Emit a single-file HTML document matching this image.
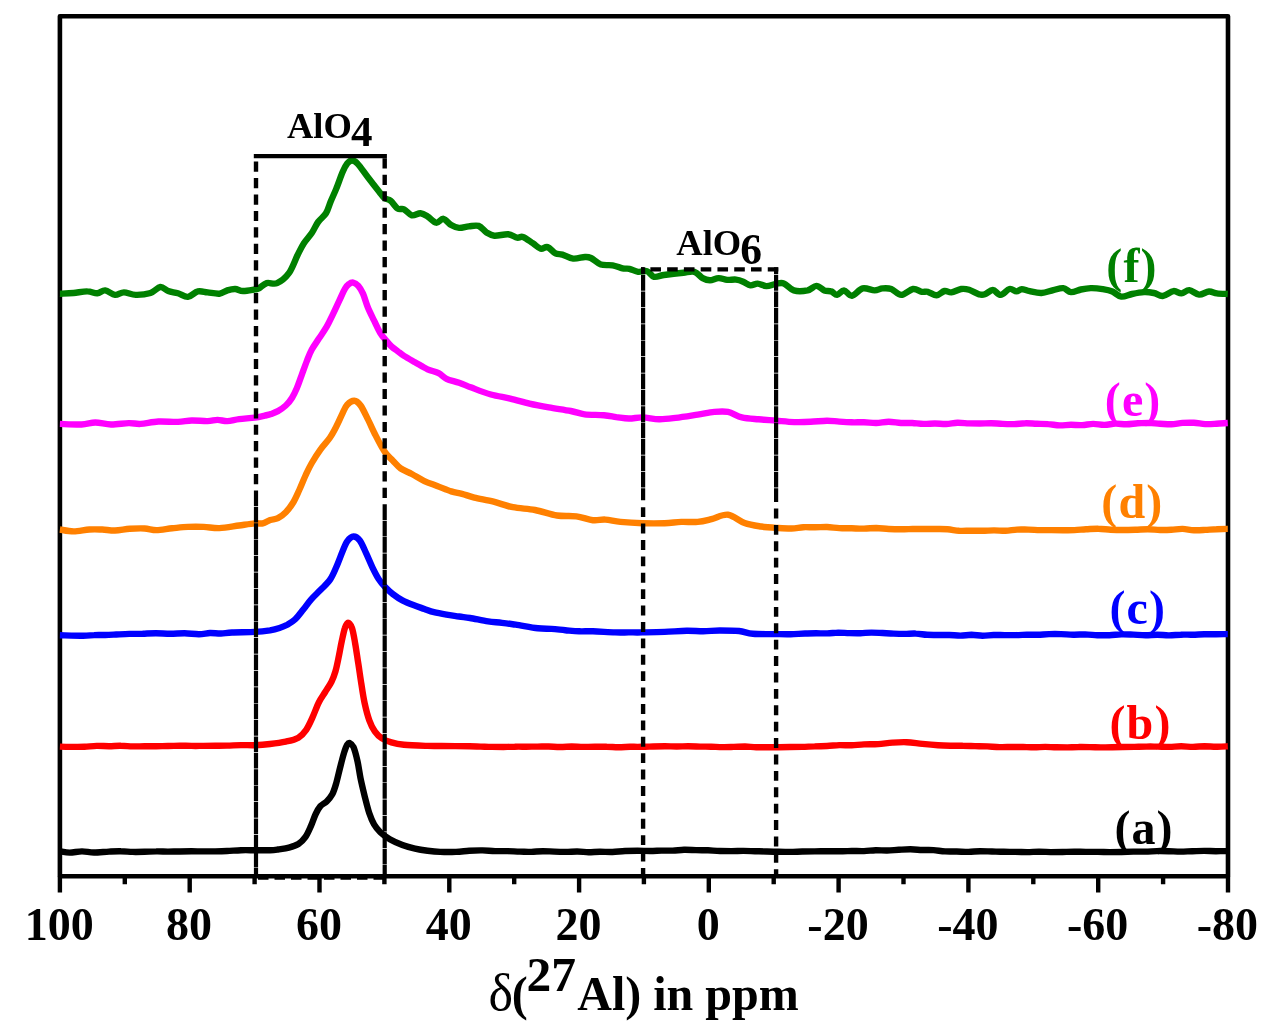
<!DOCTYPE html>
<html lang="en"><head><meta charset="utf-8"><title>27Al MAS NMR spectra</title>
<style>
html,body{margin:0;padding:0;background:#fff;}
body{width:1269px;height:1035px;overflow:hidden;font-family:"Liberation Serif",serif;}
svg{display:block;filter:blur(0.55px);}
</style></head><body>
<svg width="1269" height="1035" viewBox="0 0 1269 1035">
<rect width="1269" height="1035" fill="#ffffff"/>
<rect x="59.9" y="16.3" width="1168.1" height="860.0" fill="none" stroke="#000" stroke-width="4.6" stroke-linejoin="round"/>
<path d="M59.9 876.3V892.5M124.8 876.3V884.3M189.7 876.3V892.5M254.6 876.3V884.3M319.5 876.3V892.5M384.4 876.3V884.3M449.3 876.3V892.5M514.2 876.3V884.3M579.1 876.3V892.5M643.9 876.3V884.3M708.8 876.3V892.5M773.7 876.3V884.3M838.6 876.3V892.5M903.5 876.3V884.3M968.4 876.3V892.5M1033.3 876.3V884.3M1098.2 876.3V892.5M1163.1 876.3V884.3M1228.0 876.3V892.5" stroke="#000" stroke-width="4.4" fill="none"/>
<g fill="none" stroke-width="6.4" stroke-linejoin="round" stroke-linecap="butt">
<path stroke="#000000" d="M59.9 851.2C61.5 851.4 66.0 852.6 69.7 852.6C73.4 852.6 78.0 851.4 82.0 851.4C86.0 851.4 89.5 852.5 94.0 852.5C98.5 852.5 104.5 851.8 109.0 851.6C113.5 851.4 116.9 851.2 120.8 851.3C124.7 851.3 128.7 851.8 132.6 851.9C136.5 852.0 140.5 851.9 144.4 851.8C148.3 851.7 152.3 851.4 156.2 851.4C160.1 851.3 164.1 851.6 168.0 851.6C171.9 851.6 175.9 851.5 179.8 851.5C183.7 851.4 187.7 851.3 191.6 851.3C195.5 851.3 199.5 851.4 203.4 851.4C207.3 851.4 211.3 851.4 215.2 851.4C219.1 851.3 222.7 851.2 227.0 851.0C231.3 850.8 236.3 850.4 241.0 850.2C245.7 850.1 250.2 850.2 255.0 850.2C259.8 850.2 266.2 850.4 270.0 850.3C273.8 850.2 274.8 850.0 277.9 849.5C281.0 849.0 285.5 848.5 288.9 847.6C292.3 846.7 295.6 845.8 298.4 844.0C301.2 842.2 303.4 839.9 305.5 836.9C307.6 833.9 309.3 829.7 311.0 825.9C312.7 822.1 314.1 817.3 315.7 814.0C317.3 810.7 318.6 808.3 320.4 806.2C322.2 804.1 324.7 803.4 326.7 801.4C328.7 799.4 330.7 797.3 332.3 794.3C333.9 791.3 334.9 787.8 336.2 783.3C337.5 778.8 338.8 772.7 340.1 767.6C341.4 762.5 342.9 756.4 344.1 752.6C345.3 748.8 346.2 746.3 347.2 744.7C348.2 743.1 348.8 742.7 349.9 743.1C350.9 743.5 352.2 744.1 353.5 747.1C354.8 750.1 356.3 756.0 357.5 761.2C358.7 766.5 359.4 772.8 360.6 778.6C361.8 784.4 363.2 790.1 364.6 795.9C366.1 801.7 367.7 808.6 369.3 813.3C370.9 818.0 372.2 821.1 374.0 824.3C375.8 827.4 377.7 829.7 380.3 832.2C382.9 834.7 386.1 837.1 389.8 839.3C393.5 841.4 398.2 843.5 402.4 845.1C406.6 846.7 410.8 847.8 415.0 848.7C419.2 849.7 423.4 850.3 427.6 850.8C431.8 851.3 435.5 851.7 440.2 851.9C444.9 852.1 451.1 852.1 456.0 851.9C460.9 851.7 464.9 851.0 469.3 850.7C473.7 850.5 478.3 850.3 482.6 850.4C486.9 850.5 490.9 851.0 495.1 851.1C499.2 851.2 503.4 851.1 507.5 851.1C511.7 851.2 516.0 851.5 520.0 851.6C524.0 851.7 527.6 851.9 531.4 851.9C535.2 851.8 539.0 851.2 542.9 851.2C546.7 851.2 550.5 851.5 554.3 851.6C558.1 851.8 561.9 851.9 565.7 851.9C569.5 851.9 573.3 851.5 577.1 851.5C581.0 851.5 584.8 852.1 588.6 852.2C592.4 852.2 596.0 851.8 600.0 851.8C604.0 851.8 608.3 852.1 612.5 852.0C616.7 851.8 620.8 851.2 625.0 851.0C629.2 850.8 633.3 850.8 637.5 850.8C641.7 850.8 646.0 851.0 650.0 851.0C654.0 851.0 657.6 850.7 661.3 850.6C665.1 850.6 668.9 850.7 672.7 850.6C676.4 850.5 680.1 849.9 684.0 849.8C687.9 849.7 692.0 850.0 696.0 850.1C700.0 850.2 704.0 850.2 708.0 850.3C712.0 850.5 716.1 850.9 720.0 851.0C723.9 851.1 727.8 851.1 731.7 851.1C735.6 851.1 739.4 850.9 743.3 850.9C747.2 850.9 751.1 851.1 755.0 851.2C758.9 851.3 762.8 851.5 766.7 851.5C770.6 851.6 774.4 851.7 778.3 851.7C782.2 851.8 786.0 851.9 790.0 851.9C794.0 851.9 798.2 851.6 802.3 851.5C806.4 851.4 810.6 851.4 814.7 851.4C818.8 851.3 822.9 851.3 827.0 851.2C831.1 851.2 835.2 851.4 839.3 851.3C843.4 851.3 847.6 851.1 851.7 851.0C855.8 851.0 860.0 851.2 864.0 851.1C868.0 851.0 871.7 850.3 875.6 850.2C879.5 850.1 883.3 850.6 887.2 850.5C891.1 850.4 894.9 850.0 898.8 849.8C902.7 849.6 906.5 849.3 910.4 849.3C914.3 849.3 918.1 849.8 922.0 850.0C925.8 850.1 929.7 849.9 933.5 850.1C937.4 850.4 941.3 851.2 945.1 851.4C949.0 851.6 952.8 851.4 956.7 851.5C960.6 851.6 964.5 851.9 968.5 851.9C972.4 851.8 976.3 851.3 980.2 851.2C984.1 851.2 988.0 851.4 992.0 851.5C995.9 851.6 999.8 851.8 1003.7 851.8C1007.6 851.9 1011.6 851.8 1015.5 851.9C1019.4 851.9 1023.3 852.1 1027.2 852.1C1031.1 852.1 1035.1 851.7 1039.0 851.7C1042.9 851.7 1046.8 852.0 1050.7 852.1C1054.7 852.1 1058.6 852.0 1062.5 852.0C1066.4 851.9 1070.3 851.7 1074.2 851.7C1078.2 851.7 1082.1 851.9 1086.0 851.9C1089.9 851.9 1093.9 851.9 1097.8 851.9C1101.8 851.9 1105.7 852.1 1109.6 852.1C1113.6 852.1 1117.5 852.1 1121.5 852.0C1125.4 851.9 1129.3 851.7 1133.3 851.6C1137.2 851.6 1141.1 851.7 1145.1 851.6C1149.0 851.6 1153.0 851.2 1156.9 851.1C1160.8 851.0 1164.8 851.1 1168.7 851.2C1172.7 851.3 1176.6 851.6 1180.5 851.6C1184.5 851.6 1188.4 851.3 1192.3 851.2C1196.3 851.1 1200.2 850.9 1204.2 850.9C1208.1 850.9 1212.0 851.2 1216.0 851.2C1219.9 851.2 1225.8 851.1 1227.8 851.1"/>
<path stroke="#ff0000" d="M59.9 746.6C61.9 746.7 68.1 746.9 72.2 746.9C76.3 746.9 80.4 747.0 84.5 746.8C88.5 746.6 92.6 746.0 96.7 745.9C100.8 745.8 105.0 746.2 109.0 746.2C113.0 746.2 116.9 745.7 120.8 745.8C124.7 745.8 128.7 746.3 132.6 746.4C136.5 746.5 140.5 746.3 144.4 746.3C148.3 746.3 152.3 746.2 156.2 746.2C160.1 746.1 164.1 746.1 168.0 746.0C171.9 745.9 175.9 745.8 179.8 745.7C183.7 745.7 187.7 745.9 191.6 745.9C195.5 746.0 199.5 745.9 203.4 745.9C207.3 745.8 211.3 745.8 215.2 745.8C219.1 745.7 222.7 745.7 227.0 745.6C231.3 745.5 236.3 745.2 241.0 745.1C245.7 745.0 250.2 745.4 255.0 745.2C259.8 745.0 264.9 744.6 270.0 744.0C275.1 743.4 281.1 742.6 285.8 741.6C290.5 740.6 295.0 739.7 298.4 737.7C301.8 735.7 303.8 733.2 306.2 729.8C308.6 726.4 310.5 721.8 312.6 717.2C314.7 712.6 316.8 706.4 318.9 702.2C321.0 698.0 323.1 695.4 325.2 692.0C327.3 688.6 329.8 685.1 331.5 681.7C333.2 678.3 334.2 675.6 335.4 671.5C336.6 667.4 337.6 662.3 338.6 657.3C339.7 652.3 340.6 646.4 341.7 641.5C342.8 636.6 343.8 631.2 344.9 628.1C345.9 625.0 346.8 622.6 348.0 622.6C349.2 622.6 350.8 624.7 352.0 628.1C353.2 631.5 354.1 637.2 355.1 643.1C356.2 649.0 357.2 656.8 358.3 663.6C359.4 670.4 360.3 677.5 361.4 684.1C362.4 690.7 363.3 697.0 364.6 703.0C365.9 709.0 367.6 715.6 369.3 720.3C371.0 725.0 372.7 728.4 374.8 731.4C376.9 734.4 379.1 736.6 381.9 738.4C384.7 740.2 387.7 741.3 391.4 742.4C395.1 743.5 398.0 744.2 404.0 744.8C410.0 745.4 421.3 745.7 427.6 745.9C433.9 746.1 436.9 745.9 441.5 746.0C446.2 746.0 450.8 746.0 455.5 746.1C460.1 746.1 465.2 746.2 469.4 746.3C473.6 746.4 476.9 746.5 480.7 746.6C484.5 746.7 488.3 746.9 492.0 746.9C495.8 747.0 499.6 747.0 503.4 747.0C507.2 746.9 510.9 746.7 514.7 746.7C518.5 746.6 522.2 746.7 526.0 746.7C529.8 746.7 533.6 746.6 537.4 746.6C541.1 746.6 544.9 746.4 548.7 746.5C552.4 746.6 556.2 747.0 560.0 747.0C563.8 747.0 567.8 746.6 571.7 746.5C575.6 746.5 579.4 746.9 583.3 746.9C587.2 746.9 591.1 746.8 595.0 746.7C598.9 746.7 602.8 746.7 606.7 746.8C610.6 746.8 614.4 747.2 618.3 747.2C622.2 747.2 626.1 746.9 630.0 746.8C633.9 746.8 637.8 746.9 641.7 746.8C645.6 746.8 649.4 746.6 653.3 746.5C657.2 746.4 661.1 746.3 665.0 746.3C668.9 746.3 672.8 746.5 676.7 746.5C680.6 746.5 684.4 746.3 688.3 746.3C692.2 746.3 696.2 746.5 700.0 746.6C703.8 746.7 707.5 746.6 711.2 746.7C715.0 746.8 718.8 747.1 722.5 747.1C726.2 747.2 730.0 747.0 733.8 746.9C737.5 746.8 741.2 746.5 745.0 746.5C748.8 746.6 752.5 747.1 756.2 747.2C760.0 747.3 763.8 747.2 767.5 747.2C771.2 747.2 775.0 747.2 778.8 747.2C782.5 747.1 786.1 747.0 790.0 747.0C793.9 747.0 798.2 747.0 802.3 746.9C806.4 746.8 810.6 746.5 814.7 746.4C818.8 746.2 822.9 746.2 827.0 746.0C831.1 745.8 835.2 745.3 839.3 745.1C843.4 745.0 847.6 745.4 851.7 745.3C855.8 745.1 859.6 744.6 864.0 744.4C868.4 744.2 873.5 744.4 878.2 744.1C883.0 743.8 887.7 742.9 892.5 742.6C897.2 742.3 901.7 742.0 906.7 742.2C911.7 742.4 917.1 743.4 922.4 743.9C927.6 744.4 933.3 744.9 938.0 745.2C942.7 745.5 946.2 745.6 950.3 745.7C954.4 745.8 958.6 745.7 962.7 745.8C966.8 745.8 970.9 746.0 975.0 746.1C979.1 746.2 983.2 746.2 987.3 746.4C991.4 746.6 995.6 747.0 999.7 747.1C1003.8 747.2 1008.1 747.0 1012.0 747.0C1015.9 747.0 1019.4 747.0 1023.1 747.0C1026.8 747.1 1030.5 747.3 1034.2 747.3C1037.9 747.3 1041.6 746.9 1045.3 746.9C1049.0 746.9 1052.7 747.3 1056.4 747.3C1060.1 747.4 1063.8 747.4 1067.5 747.4C1071.2 747.3 1074.9 747.0 1078.6 747.0C1082.3 746.9 1086.0 747.0 1089.7 747.1C1093.4 747.1 1097.1 747.4 1100.8 747.4C1104.5 747.4 1108.2 747.3 1111.9 747.2C1115.6 747.1 1119.2 747.0 1123.0 747.0C1126.8 747.0 1130.8 747.0 1134.6 746.9C1138.5 746.8 1142.4 746.6 1146.3 746.6C1150.2 746.5 1154.1 746.6 1157.9 746.6C1161.8 746.7 1165.7 746.9 1169.6 746.9C1173.5 746.8 1177.3 746.3 1181.2 746.3C1185.1 746.3 1189.0 746.9 1192.9 746.9C1196.7 746.9 1200.6 746.3 1204.5 746.2C1208.4 746.2 1212.3 746.7 1216.2 746.7C1220.0 746.8 1225.9 746.4 1227.8 746.3"/>
<path stroke="#0000ff" d="M59.9 635.2C63.8 635.3 77.4 635.8 83.1 635.8C88.8 635.8 90.5 635.2 94.1 635.1C97.8 634.9 101.5 635.1 105.2 635.0C108.8 634.9 112.2 634.7 116.2 634.5C120.2 634.3 125.0 634.0 129.4 633.9C133.8 633.8 138.3 633.9 142.7 633.8C147.1 633.6 151.3 633.2 155.9 633.2C160.5 633.2 165.5 633.7 170.2 633.7C175.0 633.7 179.8 633.3 184.6 633.3C189.3 633.4 194.7 634.2 198.9 634.2C203.1 634.2 206.3 633.2 209.9 633.0C213.6 632.9 217.3 633.6 221.0 633.5C224.6 633.4 226.3 632.8 232.0 632.5C237.7 632.2 248.9 632.3 255.2 631.9C261.5 631.5 265.9 630.9 270.0 630.3C274.1 629.6 276.6 628.9 279.5 628.0C282.4 627.1 284.7 626.2 287.3 624.8C289.9 623.3 292.6 621.8 295.2 619.3C297.8 616.8 300.5 613.1 303.1 609.8C305.7 606.5 308.1 602.9 311.0 599.6C313.9 596.3 317.2 593.4 320.4 590.1C323.5 586.8 327.3 583.7 329.9 579.9C332.5 576.1 334.1 572.0 336.2 567.3C338.3 562.6 340.7 555.8 342.5 551.5C344.3 547.2 345.4 543.8 347.2 541.3C349.0 538.8 351.4 536.6 353.5 536.5C355.6 536.4 357.7 537.7 359.8 540.5C361.9 543.3 364.0 548.6 366.1 553.1C368.2 557.6 370.3 563.0 372.4 567.3C374.5 571.6 376.6 575.8 378.7 579.1C380.8 582.4 382.7 584.5 385.1 587.0C387.5 589.5 390.0 591.9 392.9 594.1C395.8 596.3 399.0 598.6 402.4 600.4C405.8 602.2 409.7 603.7 413.4 605.1C417.1 606.5 421.0 607.8 424.4 609.0C427.8 610.2 430.2 611.3 433.9 612.2C437.6 613.1 442.3 613.9 446.5 614.6C450.7 615.3 455.2 615.9 459.1 616.5C463.0 617.1 465.2 617.2 470.0 618.0C474.8 618.8 482.8 620.6 488.1 621.4C493.4 622.2 497.3 622.2 501.9 622.8C506.5 623.3 509.7 623.8 515.7 624.7C521.7 625.6 531.7 627.6 537.7 628.3C543.7 629.0 546.9 628.6 551.5 628.9C556.1 629.2 560.7 629.8 565.3 630.2C569.9 630.6 574.5 631.2 579.1 631.3C583.7 631.5 586.9 631.1 592.9 631.3C598.9 631.5 609.0 632.2 615.0 632.4C621.0 632.6 624.2 632.4 628.8 632.4C633.3 632.4 636.5 632.5 642.5 632.4C648.5 632.3 657.2 632.2 664.6 631.9C672.0 631.6 680.3 630.8 686.7 630.7C693.1 630.6 697.7 631.3 703.2 631.3C708.7 631.3 713.8 630.5 719.8 630.5C725.8 630.5 733.6 630.5 739.1 631.0C744.6 631.5 746.7 633.3 752.9 633.8C759.1 634.3 770.0 634.0 776.3 634.1C782.6 634.2 785.9 634.3 790.6 634.2C795.4 634.1 800.8 633.6 805.0 633.5C809.2 633.4 812.4 633.3 816.1 633.3C819.8 633.3 823.5 633.5 827.2 633.4C830.9 633.3 834.6 632.7 838.2 632.6C841.9 632.6 845.6 633.0 849.3 633.1C853.0 633.2 856.7 633.3 860.4 633.2C864.1 633.1 867.8 632.6 871.5 632.6C875.2 632.6 878.9 632.8 882.6 633.0C886.3 633.2 890.0 633.5 893.7 633.6C897.4 633.8 901.1 633.9 904.8 633.9C908.5 633.9 912.2 633.4 916.0 633.6C919.7 633.7 923.4 634.6 927.1 634.8C930.8 635.0 934.5 634.9 938.2 635.0C941.9 635.0 945.6 634.9 949.3 635.0C953.0 635.1 956.7 635.6 960.4 635.6C964.1 635.6 967.8 634.8 971.5 634.8C975.2 634.9 978.9 635.6 982.5 635.7C986.2 635.7 989.9 635.1 993.6 635.0C997.3 634.9 1001.0 635.1 1004.7 635.1C1008.4 635.1 1012.1 635.2 1015.8 635.1C1019.5 635.1 1023.2 634.8 1026.8 634.7C1030.5 634.7 1034.2 634.9 1037.9 634.8C1041.6 634.7 1045.1 634.2 1049.0 634.1C1052.9 634.0 1057.0 634.0 1061.1 634.1C1065.1 634.2 1069.1 634.7 1073.2 634.7C1077.2 634.8 1081.2 634.4 1085.2 634.4C1089.2 634.5 1093.3 635.0 1097.3 635.2C1101.3 635.3 1105.3 635.4 1109.4 635.2C1113.4 635.1 1117.4 634.5 1121.4 634.4C1125.5 634.3 1129.5 634.5 1133.5 634.6C1137.5 634.8 1141.6 635.2 1145.6 635.2C1149.6 635.2 1153.4 634.7 1157.3 634.7C1161.3 634.7 1165.2 635.5 1169.1 635.4C1173.0 635.4 1176.9 634.8 1180.8 634.7C1184.7 634.5 1188.7 634.8 1192.6 634.7C1196.5 634.6 1200.4 634.3 1204.3 634.2C1208.2 634.1 1212.1 634.3 1216.1 634.3C1220.0 634.3 1225.8 634.1 1227.8 634.1"/>
<path stroke="#ff8000" d="M59.9 529.5C62.2 529.8 68.7 531.4 73.6 531.4C78.5 531.4 84.6 529.8 89.4 529.5C94.2 529.2 97.9 529.4 102.2 529.5C106.5 529.7 110.4 530.6 115.0 530.5C119.6 530.4 124.9 529.1 129.8 528.8C134.7 528.5 140.2 528.3 144.6 528.5C149.0 528.7 151.8 530.1 156.4 530.1C161.0 530.1 166.9 528.8 172.2 528.3C177.4 527.8 182.7 527.1 187.9 526.9C193.2 526.7 198.4 526.7 203.7 526.9C208.9 527.1 213.5 528.3 219.4 528.1C225.3 527.9 233.2 526.3 239.1 525.5C245.0 524.7 250.9 523.8 254.9 523.4C258.9 523.0 260.2 524.0 262.8 523.4C265.4 522.8 267.7 520.9 270.2 520.0C272.7 519.1 275.3 519.5 277.9 518.2C280.5 516.9 283.2 514.8 285.8 512.2C288.4 509.6 290.9 506.3 293.2 502.5C295.5 498.7 297.4 494.0 299.5 489.5C301.6 485.0 303.5 479.8 305.5 475.5C307.5 471.2 309.0 467.8 311.5 463.5C314.0 459.2 317.3 453.9 320.4 449.6C323.5 445.3 327.3 441.6 329.9 437.8C332.5 434.0 334.1 430.9 336.2 426.8C338.3 422.7 340.7 417.1 342.5 413.4C344.3 409.7 345.2 406.8 347.2 404.7C349.2 402.6 352.1 400.7 354.3 400.8C356.5 400.9 358.4 402.5 360.6 405.5C362.8 408.5 365.2 413.9 367.7 418.9C370.2 423.9 373.2 430.7 375.6 435.4C378.0 440.1 380.1 444.1 381.9 447.3C383.7 450.5 384.8 452.2 386.6 454.4C388.4 456.6 390.5 458.3 392.9 460.7C395.3 463.1 397.6 466.3 400.8 468.5C404.0 470.7 407.9 471.9 411.8 474.0C415.7 476.1 420.2 479.1 424.4 481.1C428.6 483.1 432.6 484.2 437.1 485.9C441.6 487.6 447.1 490.1 451.2 491.4C455.3 492.7 458.1 492.8 462.0 493.8C465.9 494.8 469.0 496.3 474.3 497.6C479.6 498.9 487.2 500.1 493.6 501.7C500.0 503.3 506.0 505.8 512.9 507.2C519.8 508.6 527.6 508.6 535.0 510.0C542.4 511.4 550.1 514.5 557.0 515.5C563.9 516.5 570.4 515.5 576.4 516.3C582.4 517.1 588.1 519.7 592.9 520.2C597.7 520.8 600.7 519.3 605.3 519.6C609.9 519.9 614.3 521.3 620.5 521.9C626.7 522.5 635.1 523.0 642.5 523.2C649.9 523.4 658.1 523.4 664.6 523.2C671.1 523.0 675.7 522.1 681.2 521.9C686.7 521.7 692.7 522.4 697.7 521.9C702.8 521.4 706.5 520.3 711.5 519.1C716.5 517.9 722.5 514.1 728.0 514.7C733.5 515.4 739.1 521.0 744.6 523.0C750.1 525.0 755.8 525.7 761.1 526.5C766.4 527.3 771.2 527.6 776.3 527.9C781.4 528.2 787.0 528.6 791.5 528.5C796.0 528.4 799.4 527.4 803.3 527.2C807.3 527.0 811.2 527.4 815.2 527.3C819.1 527.3 823.0 526.9 827.0 527.0C831.0 527.1 835.2 527.9 839.3 528.1C843.4 528.4 847.6 528.2 851.7 528.3C855.8 528.4 859.9 528.7 864.0 528.6C868.1 528.6 872.2 528.0 876.3 528.0C880.4 528.1 884.6 528.8 888.7 529.0C892.8 529.2 897.0 529.3 901.0 529.3C905.0 529.3 908.8 529.1 912.6 529.0C916.5 529.0 920.4 529.0 924.2 529.0C928.1 529.0 932.0 528.9 935.9 529.0C939.8 529.1 943.6 529.0 947.5 529.3C951.4 529.6 955.2 530.5 959.1 530.8C963.0 531.0 966.9 530.7 970.8 530.7C974.6 530.7 978.5 530.9 982.4 530.8C986.2 530.8 990.1 530.4 994.0 530.4C997.9 530.4 1001.7 530.9 1005.5 530.8C1009.3 530.7 1013.2 529.8 1017.0 529.6C1020.8 529.4 1024.7 529.6 1028.5 529.6C1032.3 529.7 1036.2 530.0 1040.0 530.1C1043.8 530.2 1047.7 530.1 1051.5 530.1C1055.3 530.2 1059.2 530.2 1063.0 530.2C1066.8 530.2 1070.7 530.3 1074.5 530.1C1078.3 530.0 1082.0 529.5 1086.0 529.3C1090.0 529.1 1094.2 528.6 1098.3 528.7C1102.4 528.7 1106.6 529.5 1110.7 529.7C1114.8 529.9 1118.9 530.0 1123.0 530.0C1127.1 530.0 1131.2 529.9 1135.3 529.8C1139.4 529.7 1143.6 529.3 1147.7 529.3C1151.8 529.3 1156.1 529.9 1160.0 530.0C1163.9 530.1 1167.5 530.0 1171.3 529.8C1175.1 529.6 1178.8 528.8 1182.6 528.9C1186.4 529.0 1190.1 530.1 1193.9 530.2C1197.7 530.4 1201.4 530.1 1205.2 529.9C1209.0 529.7 1212.7 529.3 1216.5 529.2C1220.3 529.0 1225.9 528.9 1227.8 528.9"/>
<path stroke="#ff00ff" d="M59.9 423.9C63.5 424.0 75.6 424.7 81.5 424.5C87.4 424.3 90.4 422.5 95.3 422.5C100.2 422.5 105.4 424.4 111.0 424.5C116.6 424.6 123.9 423.2 128.8 423.1C133.7 423.0 135.7 424.2 140.6 423.9C145.5 423.6 152.2 421.8 158.4 421.5C164.6 421.2 172.4 422.1 178.0 421.9C183.6 421.7 186.9 420.6 191.8 420.5C196.7 420.4 203.3 421.2 207.6 421.1C211.9 421.0 214.2 419.9 217.5 419.9C220.8 419.9 223.7 421.2 227.3 421.1C230.9 421.0 234.5 419.8 239.1 419.2C243.7 418.6 250.6 418.2 254.9 417.6C259.2 417.0 262.0 416.2 264.7 415.6C267.4 415.0 268.8 414.8 271.0 414.0C273.2 413.2 275.4 412.5 277.9 411.1C280.4 409.7 283.4 407.7 285.8 405.5C288.2 403.3 290.3 400.6 292.1 397.7C293.9 394.8 295.2 391.9 296.8 388.2C298.4 384.5 299.8 380.2 301.5 375.6C303.2 371.0 305.3 364.9 307.0 360.6C308.7 356.3 309.8 353.3 311.8 349.6C313.8 345.9 316.4 342.4 318.9 338.6C321.4 334.8 324.3 330.8 326.7 326.7C329.1 322.6 330.9 318.4 333.0 314.1C335.1 309.8 337.3 304.9 339.3 300.7C341.3 296.5 343.3 291.6 344.9 288.9C346.5 286.1 347.4 285.2 348.8 284.2C350.2 283.1 351.6 282.3 353.2 282.6C354.8 282.9 356.7 284.0 358.3 285.8C359.9 287.6 361.4 290.1 363.0 293.6C364.6 297.1 365.9 302.5 367.7 307.0C369.5 311.5 371.9 316.1 374.0 320.4C376.1 324.7 378.4 329.9 380.3 333.0C382.2 336.1 383.2 337.1 385.1 339.3C387.0 341.5 389.3 344.4 391.4 346.4C393.5 348.4 395.6 349.6 397.7 351.2C399.8 352.8 401.1 354.1 404.0 355.9C406.9 357.7 411.1 360.0 415.0 362.2C418.9 364.4 423.7 367.5 427.6 369.3C431.5 371.1 435.5 371.6 438.6 373.2C441.8 374.8 443.1 377.2 446.5 378.8C449.9 380.4 454.9 381.2 459.1 382.7C463.3 384.2 466.2 385.6 471.5 387.6C476.8 389.6 484.4 392.7 490.9 394.5C497.3 396.3 503.8 397.1 510.2 398.6C516.6 400.1 523.1 402.1 529.5 403.6C535.9 405.1 541.9 406.2 548.8 407.4C555.7 408.6 564.8 409.9 570.8 411.0C576.8 412.1 579.1 413.6 584.6 414.3C590.1 415.0 598.6 414.7 603.9 415.2C609.2 415.7 612.2 416.5 616.3 417.1C620.5 417.6 624.4 418.4 628.8 418.5C633.2 418.6 637.5 417.3 642.5 417.4C647.5 417.5 653.6 419.2 659.1 419.3C664.6 419.4 669.2 418.7 675.6 417.9C682.0 417.1 691.2 415.6 697.7 414.6C704.2 413.6 709.2 412.3 714.3 411.9C719.3 411.4 723.4 411.0 728.0 411.9C732.6 412.8 736.7 416.2 741.8 417.4C746.9 418.6 752.6 418.8 758.4 419.3C764.1 419.9 770.3 420.2 776.3 420.7C782.3 421.2 788.5 421.9 794.2 422.1C799.9 422.3 805.1 422.1 810.6 421.8C816.1 421.6 822.2 420.7 827.0 420.7C831.8 420.7 835.2 421.4 839.3 421.6C843.4 421.9 847.6 422.2 851.7 422.3C855.8 422.4 859.9 422.2 864.0 422.3C868.1 422.4 872.2 423.1 876.3 423.0C880.4 422.9 884.6 421.8 888.7 421.8C892.8 421.8 897.1 422.8 901.0 423.0C904.9 423.2 908.5 422.9 912.3 423.0C916.0 423.2 919.8 423.9 923.6 423.9C927.3 424.0 931.1 423.5 934.9 423.5C938.6 423.5 942.4 424.1 946.1 424.0C949.9 423.9 953.7 422.8 957.4 422.7C961.2 422.6 965.0 423.2 968.7 423.4C972.5 423.5 976.2 423.5 980.0 423.5C983.8 423.5 987.6 423.1 991.4 423.2C995.2 423.3 999.0 423.8 1002.8 423.9C1006.5 424.1 1010.3 424.2 1014.1 424.1C1017.9 424.0 1021.7 423.3 1025.5 423.3C1029.3 423.2 1033.1 423.7 1036.9 423.8C1040.7 423.9 1044.5 423.8 1048.2 424.1C1052.0 424.3 1055.8 425.3 1059.6 425.4C1063.4 425.5 1067.2 424.8 1071.0 424.8C1074.8 424.8 1078.4 425.3 1082.1 425.1C1085.8 425.0 1089.5 423.9 1093.2 423.9C1097.0 423.9 1100.7 425.0 1104.4 424.9C1108.1 424.9 1111.8 423.7 1115.5 423.6C1119.2 423.5 1122.9 424.4 1126.6 424.3C1130.3 424.3 1134.0 423.5 1137.8 423.3C1141.5 423.1 1145.2 422.9 1148.9 422.9C1152.6 423.0 1156.3 423.5 1160.0 423.7C1163.7 423.9 1167.5 424.4 1171.3 424.3C1175.1 424.1 1178.8 423.2 1182.6 422.9C1186.4 422.7 1190.1 422.6 1193.9 422.8C1197.7 423.0 1201.4 423.9 1205.2 424.1C1209.0 424.3 1212.7 424.0 1216.5 423.8C1220.3 423.6 1225.9 423.1 1227.8 423.0"/>
<path stroke="#008000" d="M59.9 293.7C60.2 293.7 59.5 293.8 61.8 293.7C64.1 293.6 69.3 293.4 73.6 293.0C77.9 292.6 83.5 291.3 87.4 291.4C91.4 291.4 94.3 293.5 97.3 293.3C100.3 293.1 102.2 290.1 105.2 290.4C108.2 290.7 111.9 294.6 115.0 294.9C118.1 295.2 120.5 292.4 123.9 292.4C127.4 292.4 131.3 294.8 135.7 294.9C140.1 295.0 146.4 294.3 150.5 293.0C154.6 291.7 157.4 287.3 160.3 287.0C163.2 286.7 165.2 289.9 168.2 291.0C171.1 292.1 174.7 292.3 178.0 293.3C181.3 294.3 184.6 297.2 187.9 296.9C191.2 296.6 194.5 292.1 197.8 291.4C201.1 290.6 204.0 292.0 207.6 292.4C211.2 292.8 216.1 294.0 219.4 293.7C222.7 293.4 224.7 291.2 227.3 290.4C229.9 289.6 232.6 288.9 235.2 289.0C237.8 289.1 239.7 290.9 243.0 291.0C246.3 291.1 252.3 289.8 254.9 289.4C257.5 289.0 256.8 289.4 258.8 288.4C260.8 287.3 263.6 284.0 266.7 283.1C269.8 282.2 273.4 284.8 277.1 283.1C280.8 281.5 285.5 277.9 288.9 273.2C292.3 268.5 295.1 260.0 297.6 255.0C300.1 250.0 301.5 246.9 303.9 243.2C306.3 239.5 309.4 236.5 311.8 233.0C314.2 229.5 315.7 225.3 318.1 222.0C320.5 218.7 323.9 216.7 326.0 213.3C328.1 209.9 329.0 205.6 330.7 201.5C332.4 197.4 334.2 193.8 336.2 188.9C338.2 184.0 340.7 176.5 342.5 172.3C344.3 168.1 345.6 165.6 347.2 163.6C348.8 161.6 350.3 160.5 352.0 160.5C353.7 160.5 354.9 160.8 357.5 163.6C360.1 166.3 364.1 172.4 367.7 177.0C371.2 181.6 376.0 187.7 378.8 191.2C381.6 194.7 382.3 196.4 384.3 198.0C386.3 199.6 388.4 198.9 390.6 200.7C392.8 202.5 395.5 207.2 397.7 208.6C399.9 210.0 401.6 208.2 404.0 209.3C406.4 210.4 409.1 214.6 411.8 215.3C414.6 216.0 417.9 213.1 420.5 213.3C423.1 213.5 425.0 214.8 427.6 216.4C430.2 218.0 433.7 222.3 436.3 222.7C438.9 223.1 440.9 218.4 443.4 218.8C445.9 219.2 448.6 223.6 451.2 225.1C453.8 226.6 456.2 227.7 459.1 227.9C462.0 228.1 465.6 226.7 468.8 226.4C472.1 226.1 475.7 224.9 478.6 225.9C481.6 226.9 483.9 230.8 486.5 232.4C489.1 234.0 490.8 235.4 494.4 235.7C498.0 236.0 504.4 234.0 508.2 234.3C512.0 234.6 514.6 237.3 517.1 237.7C519.6 238.1 520.4 236.0 523.0 236.9C525.6 237.8 529.8 241.2 532.8 243.2C535.8 245.2 538.2 248.0 540.7 248.7C543.2 249.3 545.1 246.3 547.6 247.1C550.1 247.9 553.0 252.2 555.5 253.4C558.0 254.7 559.4 253.7 562.4 254.6C565.4 255.5 569.4 258.2 573.2 258.6C577.0 259.0 582.0 257.1 585.0 257.0C588.0 256.9 588.3 256.8 590.9 258.0C593.5 259.2 597.2 263.3 600.8 264.5C604.4 265.7 609.0 264.7 612.6 265.3C616.2 265.9 619.7 267.8 622.5 268.4C625.3 269.0 626.8 268.2 629.4 268.8C632.0 269.4 635.2 271.4 638.2 271.8C641.2 272.2 644.5 270.4 647.1 271.2C649.7 272.0 651.2 276.2 654.0 276.8C656.8 277.4 660.5 275.5 663.8 275.0C667.1 274.5 670.4 274.1 673.7 273.7C677.0 273.3 680.0 273.0 683.5 272.7C687.0 272.4 691.2 270.9 694.4 271.8C697.6 272.7 700.0 276.7 702.6 278.1C705.2 279.5 707.2 280.3 709.9 280.3C712.6 280.3 715.7 278.2 718.6 278.1C721.5 278.0 724.3 279.6 727.2 279.9C730.1 280.1 733.3 279.3 736.0 279.6C738.7 279.9 740.8 280.7 743.2 281.7C745.6 282.7 748.0 285.1 750.4 285.4C752.8 285.7 755.0 283.5 757.7 283.6C760.4 283.7 763.4 286.1 766.4 286.1C769.4 286.2 772.9 284.3 775.8 283.9C778.7 283.4 780.8 282.3 783.8 283.4C786.8 284.5 789.8 289.2 793.8 290.4C797.8 291.6 803.8 291.1 807.6 290.4C811.4 289.6 813.6 285.9 816.4 285.9C819.2 285.9 821.8 289.5 824.3 290.4C826.8 291.3 829.1 290.6 831.2 291.4C833.3 292.1 835.0 295.1 837.1 294.9C839.2 294.7 841.5 290.3 844.0 290.4C846.5 290.5 848.8 296.0 851.9 295.7C855.0 295.4 858.9 289.3 862.7 288.4C866.5 287.5 871.3 290.4 874.6 290.4C877.9 290.4 879.6 288.6 882.4 288.4C885.2 288.2 888.2 287.9 891.3 289.0C894.4 290.1 897.6 294.9 901.2 294.9C904.8 294.9 909.6 289.5 913.0 289.0C916.4 288.5 919.3 291.3 921.8 291.8C924.3 292.3 925.3 291.2 927.8 291.8C930.3 292.4 933.8 295.4 936.6 295.3C939.4 295.2 942.0 291.5 944.5 291.0C947.0 290.5 948.6 292.7 951.4 292.4C954.2 292.1 958.2 289.4 961.2 289.0C964.2 288.6 966.1 288.9 969.1 289.8C972.1 290.7 976.4 293.6 979.0 294.3C981.6 295.1 982.6 295.0 984.9 294.3C987.2 293.6 990.2 289.9 992.8 290.0C995.4 290.1 997.8 295.1 1000.6 294.9C1003.4 294.7 1006.9 289.6 1009.5 289.0C1012.1 288.4 1014.4 291.4 1016.4 291.4C1018.4 291.4 1019.6 289.2 1021.8 289.1C1024.0 289.1 1026.4 290.5 1029.7 291.1C1033.0 291.8 1037.6 293.2 1041.5 293.0C1045.4 292.8 1049.7 290.9 1053.3 290.1C1056.9 289.3 1060.2 287.8 1063.2 288.1C1066.2 288.4 1068.0 291.9 1071.0 292.1C1074.0 292.3 1077.6 290.2 1080.9 289.5C1084.2 288.8 1087.2 288.2 1090.8 288.1C1094.4 288.0 1099.0 288.5 1102.6 289.1C1106.2 289.7 1109.3 290.2 1112.4 291.5C1115.5 292.8 1118.0 296.2 1121.3 296.6C1124.6 297.0 1128.3 294.8 1132.1 294.0C1135.9 293.2 1140.4 292.3 1144.0 292.1C1147.6 291.9 1150.7 292.4 1153.8 293.0C1156.9 293.6 1159.4 296.3 1162.7 296.0C1166.0 295.7 1170.4 291.5 1173.5 291.1C1176.6 290.7 1178.8 293.6 1181.4 293.4C1184.0 293.2 1186.3 289.9 1189.3 290.1C1192.2 290.3 1195.8 294.4 1199.1 294.6C1202.4 294.8 1206.0 291.7 1209.0 291.5C1212.0 291.3 1213.8 293.0 1216.9 293.4C1220.0 293.8 1226.0 293.9 1227.8 294.0"/>
</g>
<g fill="none" stroke="#000" stroke-width="4">
<path d="M256 161.6V490.4" stroke-dasharray="10.2 6.24" stroke-width="4.4"/>
<path d="M384.7 158.2V504.3" stroke-dasharray="10.2 6.28" stroke-width="4.4"/>
<path d="M256 490.4V878M384.7 504.3V878" stroke-width="4.2" stroke-dasharray="15.7 0.7"/>
<path d="M253.8 156.1H386.9" stroke-width="4.3"/>
<path d="M258 878.6H383" stroke-width="2.2" stroke-dasharray="10.5 6"/>
<path d="M643.1 267.3V500.2M776.1 267.3V502" stroke-width="4.2" stroke-dasharray="15.7 0.7" stroke-dashoffset="8.7"/>
<path d="M643.1 507.2V878" stroke-dasharray="9.9 6.5" stroke-width="4.4"/>
<path d="M776.1 508.5V878" stroke-dasharray="9.9 6.5" stroke-width="4.4"/>
<path d="M641 269.4H778.3" stroke-dasharray="10.6 6.17" stroke-dashoffset="7.4" stroke-width="4.3"/>
</g>
<g font-family="'Liberation Serif', 'Times New Roman', serif" font-weight="bold" fill="#000">
<g font-size="46" text-anchor="middle">
<text x="59.3" y="940.2">100</text>
<text x="189.1" y="940.2">80</text>
<text x="318.9" y="940.2">60</text>
<text x="448.7" y="940.2">40</text>
<text x="578.5" y="940.2">20</text>
<text x="708.2" y="940.2">0</text>
<text x="838.0" y="940.2">-20</text>
<text x="967.8" y="940.2">-40</text>
<text x="1097.6" y="940.2">-60</text>
<text x="1227.4" y="940.2">-80</text>
</g>
<text y="1009.7" font-size="48"><tspan x="488.4" font-weight="normal" font-size="52">δ</tspan><tspan x="511.8">(</tspan><tspan x="526.5" dy="-19" font-size="49.5">27</tspan><tspan x="577.3" dy="19">Al) in ppm</tspan></text>
<text x="287" y="138" font-size="36.5">AlO<tspan font-size="43" dy="8.4" dx="-1">4</tspan></text>
<text x="676.3" y="254.6" font-size="36.5">AlO<tspan font-size="43.5" dy="9.3" dx="-1">6</tspan></text>
<text x="1106.3" y="281.6" font-size="48" letter-spacing="1.1" fill="#008000">(f)</text>
<text x="1104.8" y="416.0" font-size="48" letter-spacing="1.1" fill="#ff00ff">(e)</text>
<text x="1101.3" y="518.0" font-size="48" letter-spacing="1.1" fill="#ff8000">(d)</text>
<text x="1109.5" y="624.0" font-size="48" letter-spacing="1.1" fill="#0000ff">(c)</text>
<text x="1109.5" y="739.1" font-size="48" letter-spacing="1.1" fill="#ff0000">(b)</text>
<text x="1114.4" y="843.8" font-size="48" letter-spacing="1.1" fill="#000000">(a)</text>
</g>
</svg>
</body></html>
